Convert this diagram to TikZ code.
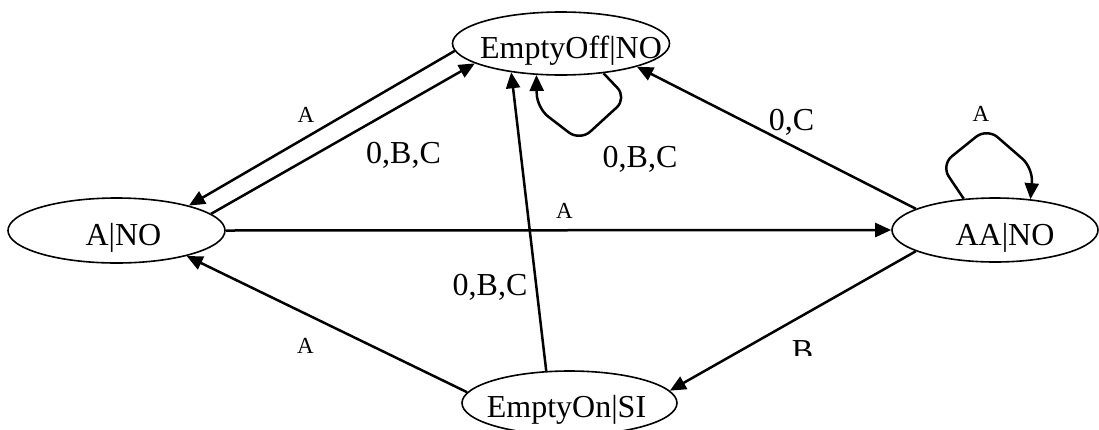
\documentclass[tikz,border=0pt]{standalone}
\usepackage{fontspec}
\setmainfont{Liberation Serif}
\usetikzlibrary{shapes.geometric,arrows.meta}
\tikzset{
  state/.style={ellipse, draw, line width=1.6pt, inner sep=0pt},
  stxt/.style={anchor=base, inner sep=0pt, font=\fontsize{32}{36}\selectfont},
  lbl/.style={anchor=base, inner sep=0pt, font=\fontsize{32}{36}\selectfont},
  slbl/.style={anchor=base, inner sep=0pt, font=\fontsize{23}{26}\selectfont},
  edge/.style={line width=2.5pt, -{Triangle[length=16pt,width=14pt]}},
  loopedge/.style={edge, rounded corners=14pt}
}
\begin{document}
\begin{tikzpicture}[x=1pt,y=-1pt]
\useasboundingbox (0,0) rectangle (1099,429);
% states
\node[state, minimum width=217pt, minimum height=63pt] (eoff) at (561,43.5) {};
\node[state, minimum width=217pt, minimum height=65pt] (ano) at (116.5,230.5) {};
\node[state, minimum width=206pt, minimum height=64pt] (aa) at (995,230) {};
\node[state, minimum width=215pt, minimum height=64pt] (eon) at (569.5,403) {};
\node[stxt] (teoff) at (571,58) {EmptyOff|NO};
\node[stxt] (tano) at (123.5,245) {A|NO};
\node[stxt] (taa) at (1005,245) {AA|NO};
\node[stxt] (teon) at (566.5,417) {EmptyOn|SI};
% edges
\draw[edge] (eoff.184) -- (ano.19.6);
\draw[edge] (ano.10) -- (eoff.193.6);
\draw[edge] (ano.east) -- (aa.west);
\draw[edge] (eon.174.2) -- (ano.340.2);
\draw[edge] (eon.126) -- (eoff.210.7);
\draw[loopedge] (eoff.325.6) -- (627,98) -- (580,141) -- (537,108) -- (eoff.232);
\draw[edge] (aa.165) -- (eoff.343.2);
\draw[loopedge] (aa.135) -- (941,165) -- (987,128) -- (1033,168) -- (aa.41);
\draw[edge] (aa.195) -- (eon.7.4);
% labels
\node[slbl] (l1) at (306,122) {A};
\node[lbl] (l2) at (403.5,163) {0,B,C};
\node[lbl] (l3) at (640,167) {0,B,C};
\node[lbl] (l4) at (791.5,130) {0,C};
\node[slbl] (l5) at (981,121) {A};
\node[slbl] (l6) at (564.5,218) {A};
\node[lbl] (l7) at (490,295) {0,B,C};
\node[slbl] (l8) at (305.5,353) {A};
\begin{scope}
\clip (780,330) rectangle (830,355);
\node[lbl] (l9) at (802.5,361) {B};
\end{scope}
\end{tikzpicture}
\end{document}
